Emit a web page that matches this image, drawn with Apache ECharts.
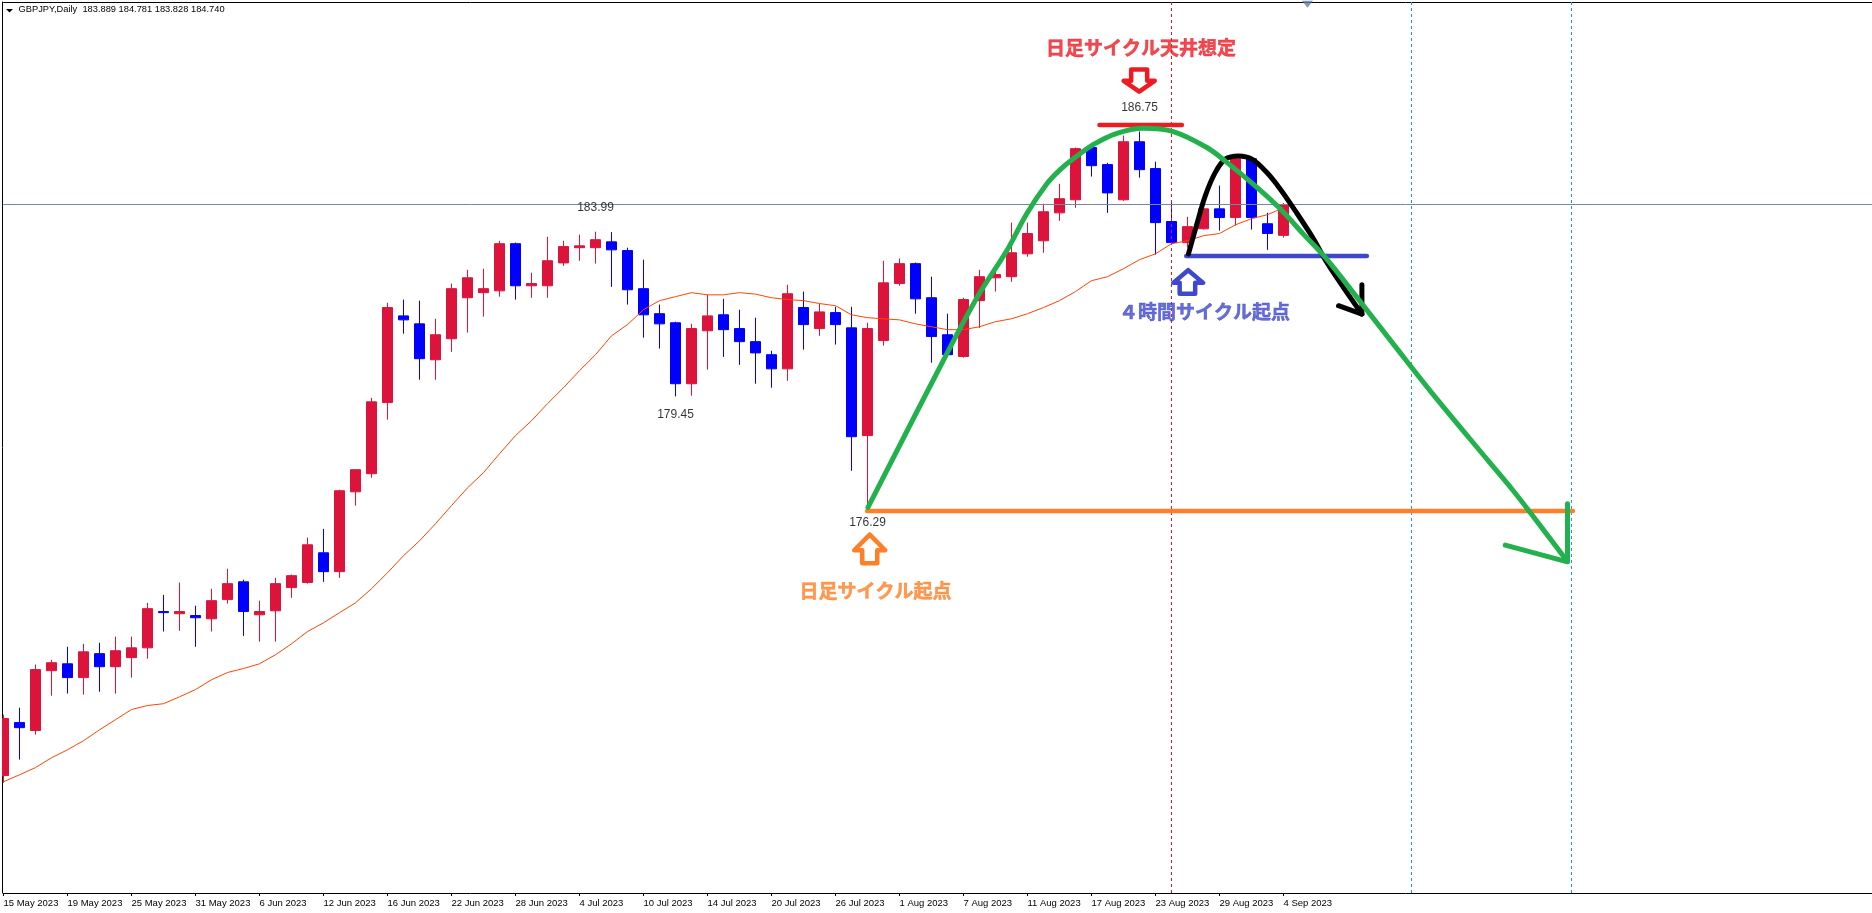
<!DOCTYPE html>
<html><head><meta charset="utf-8"><style>html,body{margin:0;padding:0;background:#fff}#c{width:1872px;height:913px}</style>
<script src="https://cdn.jsdelivr.net/npm/echarts@6/dist/echarts.min.js"></script></head>
<body><div id="c"></div><script>
const tickLabels=['15 May 2023','19 May 2023','25 May 2023','31 May 2023','6 Jun 2023','12 Jun 2023','16 Jun 2023','22 Jun 2023','28 Jun 2023','4 Jul 2023','10 Jul 2023','14 Jul 2023','20 Jul 2023','26 Jul 2023','1 Aug 2023','7 Aug 2023','11 Aug 2023','17 Aug 2023','23 Aug 2023','29 Aug 2023','4 Sep 2023'];
// [open, close, low, high]
const candles=[[169.00,170.57,168.80,170.68],[170.46,170.32,169.44,170.87],[170.24,171.92,170.13,172.06],[171.89,172.11,171.20,172.19],[172.08,171.70,171.26,172.55],[171.70,172.41,171.23,172.63],[172.36,172.00,171.31,172.66],[172.00,172.44,171.26,172.83],[172.25,172.52,171.70,172.83],[172.52,173.60,172.22,173.76],[173.52,173.49,172.97,173.98],[173.46,173.52,172.99,174.32],[173.41,173.35,172.55,173.68],[173.32,173.82,172.97,174.15],[173.85,174.29,173.74,174.70],[174.34,173.52,172.85,174.40],[173.43,173.52,172.69,173.82],[173.54,174.29,172.69,174.45],[174.18,174.51,173.90,174.54],[174.32,175.36,174.29,175.56],[175.14,174.62,174.34,175.80],[174.62,176.85,174.45,176.88],[176.82,177.43,176.44,177.43],[177.32,179.30,177.21,179.41],[179.28,181.90,178.81,182.03],[181.67,181.56,181.18,182.12],[181.45,180.49,179.91,182.09],[180.46,181.15,179.91,181.59],[181.04,182.42,180.68,182.56],[182.17,182.72,181.21,182.94],[182.31,182.42,181.65,182.97],[182.36,183.66,182.20,183.74],[183.66,182.50,182.12,183.69],[182.50,182.56,182.17,182.86],[182.50,183.19,182.17,183.85],[183.13,183.58,183.05,183.74],[183.55,183.60,183.19,183.91],[183.55,183.77,183.11,183.99],[183.71,183.49,182.47,183.98],[183.47,182.39,181.98,183.55],[182.42,181.70,181.07,183.22],[181.73,181.45,180.77,181.98],[181.48,179.80,179.45,181.51],[179.80,181.32,179.47,181.45],[181.26,181.67,180.19,182.25],[181.70,181.29,180.54,182.14],[181.32,180.96,180.32,181.84],[180.96,180.65,179.80,181.62],[180.60,180.21,179.69,180.71],[180.21,182.28,179.88,182.53],[181.90,181.43,180.74,182.34],[181.32,181.78,181.12,182.01],[181.76,181.43,180.88,181.92],[181.34,178.34,177.40,181.92],[178.37,181.32,176.29,181.48],[180.99,182.58,180.85,183.19],[182.56,183.11,182.50,183.25],[183.11,182.14,181.73,183.14],[182.17,181.10,180.38,182.75],[181.15,180.60,180.58,181.73],[180.55,182.12,180.52,182.17],[182.09,182.75,181.34,182.94],[182.72,182.81,182.34,182.92],[182.75,183.41,182.61,184.24],[183.38,183.94,183.30,184.24],[183.74,184.54,183.41,184.76],[184.51,184.90,184.29,185.31],[184.87,186.28,184.65,186.31],[186.31,185.81,185.51,186.44],[185.84,185.06,184.51,185.89],[184.87,186.47,184.84,186.64],[186.47,185.70,185.48,186.75],[185.73,184.24,183.36,185.92],[184.27,183.69,183.67,184.82],[183.69,184.13,183.55,184.40],[184.07,184.62,184.05,184.64],[184.62,184.38,184.02,185.26],[184.38,186.00,184.16,186.05],[186.00,184.38,184.05,186.05],[184.21,183.94,183.49,184.51],[183.889,184.74,183.828,184.781]];
const maValues=[168.83,169.02,169.22,169.49,169.71,169.96,170.26,170.54,170.82,170.93,170.98,171.17,171.37,171.64,171.84,171.95,172.08,172.33,172.63,172.97,173.21,173.49,173.76,174.15,174.59,175.06,175.47,175.94,176.44,176.93,177.35,177.87,178.37,178.78,179.25,179.69,180.16,180.60,181.12,181.43,181.84,182.09,182.20,182.31,182.25,182.25,182.31,182.27,182.17,182.12,182.09,182.01,181.95,181.70,181.62,181.59,181.56,181.45,181.37,181.29,181.29,181.37,181.51,181.59,181.73,181.90,182.09,182.34,182.64,182.75,182.97,183.22,183.38,183.66,183.74,183.88,183.94,184.18,184.35,184.46,184.65];
const bidPrice=184.74;
const redVLine=73, blueVLines=[88,98];
const greenCurve=[[54.03,176.39],[58.96,180.63],[60.92,182.23],[62.71,183.47],[63.96,184.49],[65.21,185.31],[66.04,185.70],[66.86,186.00],[68.11,186.39],[69.59,186.70],[71.23,186.84],[73.11,186.75],[75.21,186.31],[76.46,185.90],[78.34,185.21],[79.79,184.62],[81.23,183.93],[82.61,183.28],[84.59,182.18],[86.98,180.83],[89.36,179.50],[92.79,177.68],[94.36,176.85],[95.42,176.25],[97.71,174.92]];
const greenHead=[[97.75,176.49],[97.75,174.89],[93.86,175.35]];
const blackCurve=[[74.06,183.38],[74.59,184.21],[75.11,184.98],[75.73,185.62],[76.36,185.99],[77.19,186.08],[78.03,185.99],[78.96,185.62],[79.79,185.17],[80.73,184.57],[81.88,183.79],[82.71,183.14],[83.75,182.45],[84.90,181.72]];
const blackHead=[[84.90,182.53],[84.90,181.72],[83.44,181.95]];
const redLevel=[[68.5,186.93],[73.65,186.93]];
const orangeLevel=[[53.98,176.29],[98.09,176.29]];
const blueLevel=[[73.92,183.32],[85.21,183.32]];
const orangeArrow=[[54.14,175.64],[55.11,175.21],[54.61,175.21],[54.61,174.85],[53.67,174.85],[53.67,175.21],[53.17,175.21],[54.14,175.64]];
const redArrow=[[70.48,188.46],[71.48,188.46],[71.48,188.15],[71.95,188.15],[70.98,187.85],[70.01,188.15],[70.48,188.15],[70.48,188.46]];
const blueArrow=[[74.04,182.93],[74.98,182.58],[74.48,182.58],[74.48,182.28],[73.51,182.28],[73.51,182.58],[73.11,182.58],[74.04,182.93]];
const priceLabels=[[37,184.66,'183.99'],[42,178.94,'179.45'],[54,175.97,'176.29'],[71,187.416,'186.75']];
const textNotes=[[71.1,189.05,'日足サイクル天井想定','#ED1C24'],[54.5,174.09,'日足サイクル起点','#FF7F27'],[75.07,181.78,'４時間サイクル起点','#3F48CC']];
const headerText='GBPJPY,Daily  183.889 184.781 183.828 184.740';
const markerPoint=[81.5,190.26];
const axisMin=165.7626, axisMax=190.3216, slots=117;

const categories=[];
for(let i=0;i<=slots;i++)categories.push(i%4===0&&tickLabels[i/4]?tickLabels[i/4]:'');
const showTick=(i,v)=>v!=='';
const path=(data,color,width,z,smooth)=>({type:'line',xAxisIndex:1,yAxisIndex:0,data,showSymbol:false,symbol:'none',silent:true,z:z||5,clip:false,smooth:smooth||false,
  lineStyle:{color,width,cap:'round',join:'round'},animation:false});
const vline=(k,color)=>({type:'line',xAxisIndex:1,yAxisIndex:0,data:[[k,axisMin],[k,axisMax]],symbol:'none',silent:true,z:3,animation:false,
  lineStyle:{color,width:1,type:[3,3]}});
const chart=echarts.init(document.getElementById('c'),null,{renderer:'canvas'});
chart.setOption({animation:false,backgroundColor:'#fff',
 title:{text:headerText,left:18.5,top:5,padding:0,textStyle:{fontFamily:'Liberation Sans',fontSize:9.3,fontWeight:'normal',color:'#000'}},
 grid:{left:3.5,top:2,width:1872,height:891,containLabel:false,outerBoundsMode:'none'},
 xAxis:[{type:'category',data:categories,boundaryGap:false,position:'bottom',
   axisLine:{show:true,onZero:false,lineStyle:{color:'#000',width:1}},
   axisTick:{show:true,length:3,interval:showTick,lineStyle:{color:'#000'}},
   axisLabel:{show:true,interval:showTick,align:'left',margin:5,fontFamily:'Liberation Sans',fontSize:9.5,color:'#000',hideOverlap:false},splitLine:{show:false}},
  {type:'value',min:0,max:slots,position:'top',axisLine:{show:true,onZero:false,lineStyle:{color:'#000',width:1}},axisTick:{show:false},axisLabel:{show:false},splitLine:{show:false}}],
 yAxis:{type:'value',min:axisMin,max:axisMax,scale:true,offset:1,axisLine:{show:true,onZero:false,lineStyle:{color:'#000',width:1}},axisTick:{show:false},axisLabel:{show:false},splitLine:{show:false}},
 series:[
  {type:'candlestick',xAxisIndex:0,yAxisIndex:0,data:candles,barWidth:11,z:2,silent:true,animation:false,
   itemStyle:{color:'#DC143C',color0:'#0000FF',borderColor:'#DC143C',borderColor0:'#0000FF',borderWidth:1}},
  {type:'line',xAxisIndex:0,yAxisIndex:0,data:maValues,symbol:'none',showSymbol:false,silent:true,z:3,animation:false,lineStyle:{color:'#FF4500',width:1}},
  path([[0,bidPrice],[slots,bidPrice]],'#778899',1,3),
  vline(redVLine,'#DC143C'),vline(blueVLines[0],'#1E90FF'),vline(blueVLines[1],'#1E90FF'),
  path(orangeLevel,'#FF7F27',4.5,4),path(blueLevel,'#3F48CC',4.5,4),path(redLevel,'#ED1C24',4.5,4),
  path(orangeArrow,'#FF7F27',4.5,4),path(redArrow,'#ED1C24',4.5,4),path(blueArrow,'#3F48CC',4.5,4),
  path(blackCurve,'#000',5,5,0.35),path(blackHead,'#000',5,5),
  path(greenCurve,'#22B14C',5,6,0.35),path(greenHead,'#22B14C',5,6),
  {type:'scatter',xAxisIndex:1,yAxisIndex:0,silent:true,z:7,animation:false,symbolSize:0.01,
   data:priceLabels.map(d=>({value:[d[0],d[1]],label:{show:true,position:'inside',formatter:d[2],fontFamily:'Liberation Sans',fontSize:12,color:'#000'}}))},
  {type:'scatter',xAxisIndex:1,yAxisIndex:0,silent:true,z:7,animation:false,symbolSize:0.01,
   data:textNotes.map(d=>({value:[d[0],d[1]],label:{show:true,position:'inside',formatter:d[2],fontFamily:'Noto Sans CJK JP',fontWeight:'bold',fontSize:19,color:d[3],textBorderColor:d[3],textBorderWidth:0.5}}))},
  {type:'scatter',xAxisIndex:1,yAxisIndex:0,silent:true,z:7,animation:false,symbol:'triangle',symbolRotate:180,symbolSize:[11,7],clip:false,data:[markerPoint],itemStyle:{color:'#5F7F9F'}}
 ],
 graphic:[{type:'rect',shape:{x:0,y:0,width:2,height:893},style:{fill:'#fff'},z:50},
          {type:'polygon',shape:{points:[[6,9],[13,9],[9.5,12.5]]},style:{fill:'#000'}}]
});
</script></body></html>
